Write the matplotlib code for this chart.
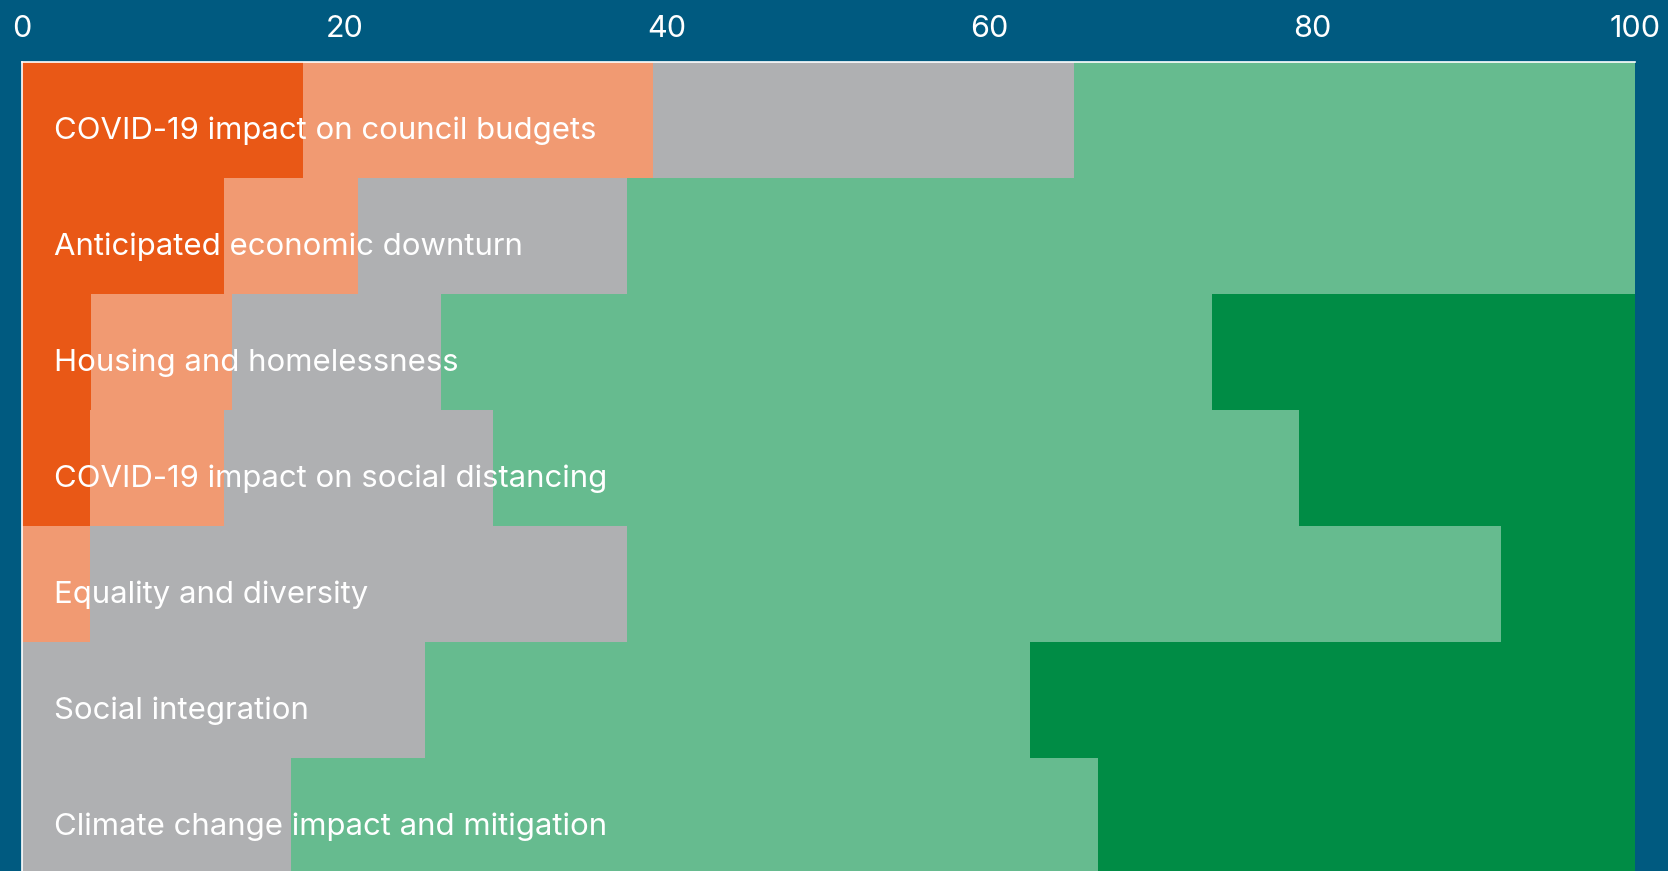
import matplotlib.pyplot as plt
import numpy as np

# survey topics, top to bottom
topics = [
    "COVID-19 impact on council budgets",
    "Anticipated economic downturn",
    "Housing and homelessness",
    "COVID-19 impact on social distancing",
    "Equality and diversity",
    "Social integration",
    "Climate change impact and mitigation",
]

# share of responses (%) per answer band
dark_orange = [17.4, 12.5, 4.3, 4.2, 0.0, 0.0, 0.0]
light_orange = [21.7, 8.3, 8.7, 8.3, 4.2, 0.0, 0.0]
grey = [26.1, 16.7, 13.0, 16.7, 33.3, 25.0, 16.7]
light_green = [34.8, 62.5, 47.8, 50.0, 54.2, 37.5, 50.0]
dark_green = [0.0, 0.0, 26.2, 20.8, 8.3, 37.5, 33.3]

ticks = [0, 20, 40, 60, 80, 100]

BG = "#005a80"
series = [
    (dark_orange, "#e95816"),
    (light_orange, "#f19a72"),
    (grey, "#afb0b2"),
    (light_green, "#66bb8f"),
    (dark_green, "#008c45"),
]

plt.rcParams["font.family"] = ["Inter", "DejaVu Sans"]

W, H = 1668, 871
fig = plt.figure(figsize=(W / 100, H / 100), dpi=100, facecolor=BG)
ax = fig.add_axes([22 / W, -3 / H, (1635 - 22) / W, 812 / H])
ax.set_facecolor(BG)

y = np.arange(len(topics))
left = np.zeros(len(topics))
for vals, col in series:
    vals = np.array(vals)
    ax.barh(y, vals, left=left, height=1.0, color=col, linewidth=0)
    left += vals

for i, name in enumerate(topics):
    ax.text(2.0, i + 0.09, name, color="white", fontsize=22.4,
            va="center", ha="left")

ax.set_xlim(0, 100)
ax.set_ylim(len(topics) - 0.5, -0.5)
ax.xaxis.tick_top()
ax.set_xticks(ticks)
ax.tick_params(axis="x", length=0, pad=14, labelsize=22, labelcolor="white")
ax.set_yticks([])

for side in ["right", "bottom"]:
    ax.spines[side].set_visible(False)
for side in ["top", "left"]:
    ax.spines[side].set_color("white")
    ax.spines[side].set_linewidth(1.2)

fig.savefig("out.png", dpi=100, facecolor=BG)
